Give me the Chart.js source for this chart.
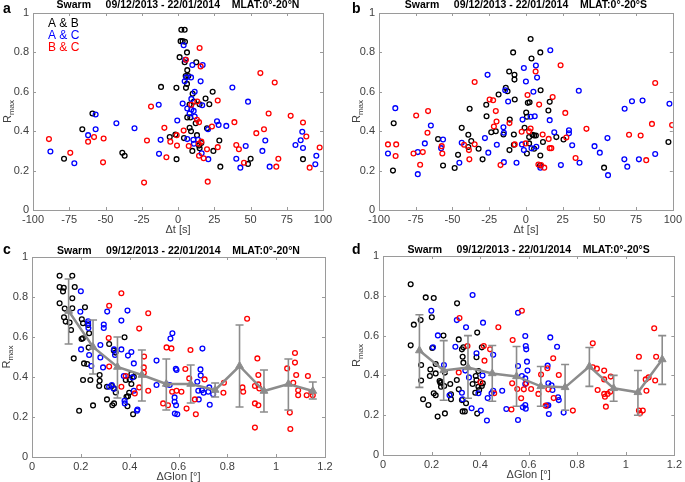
<!DOCTYPE html>
<html><head><meta charset="utf-8">
<script src="https://cdn.jsdelivr.net/npm/chart.js@4.4.1/dist/chart.umd.min.js"></script>
<style>
body{margin:0;background:#fff;width:685px;height:482px;position:relative;overflow:hidden;font-family:"Liberation Sans",Arial,sans-serif;}
canvas{position:absolute;}
.lab{position:absolute;font-weight:bold;font-size:14px;color:#000;line-height:14px;}
</style></head><body>
<canvas id="ca" width="340" height="240" style="left:0;top:0"></canvas>
<canvas id="cb" width="340" height="240" style="left:345px;top:0"></canvas>
<canvas id="cc" width="340" height="241" style="left:0;top:241px"></canvas>
<canvas id="cd" width="340" height="241" style="left:345px;top:241px"></canvas>
<div class="lab" style="left:3px;top:1px">a</div>
<div class="lab" style="left:352px;top:1px">b</div>
<div class="lab" style="left:3px;top:242px">c</div>
<div class="lab" style="left:352px;top:242px">d</div>
<script>
// ---------- data ----------
const dtTicks = [-100,-75,-50,-25,0,25,50,75,100];
const glonTicks = [0,0.2,0.4,0.6,0.8,1,1.2];
const rTicks = [0,0.2,0.4,0.6,0.8,1];
const seriesNames = ['A & B','A & C','B & C'];
const panelTitleN = 'Swarm     09/12/2013 - 22/01/2014    MLAT:0°-20°N';
const panelTitleS = 'Swarm     09/12/2013 - 22/01/2014    MLAT:0°-20°S';

// Panel a: Δt vs Rmax, north
const aAB = [[-66,0.41],[-59,0.49],[-78.6,0.26],[-38.4,0.29],[-36.8,0.275],[-11.7,0.625],[-1.1,0.62],[1.1,0.776],[2.3,0.915],[4.6,0.915],[1.8,0.857],[3.2,0.857],[4.8,0.854],[6.2,0.80],[4.6,0.75],[12.6,0.75],[6.4,0.71],[5.3,0.68],[7.1,0.68],[6.2,0.64],[5.5,0.62],[10.1,0.59],[11,0.55],[8,0.535],[14.9,0.537],[19,0.566],[21.6,0.537],[23.9,0.60],[6.4,0.47],[8.5,0.47],[12.2,0.44],[-5.7,0.37],[-1.8,0.383],[8,0.417],[9,0.40],[4.1,0.365],[20,0.415],[16.1,0.34],[14.5,0.327],[9.9,0.30],[14.9,0.314],[-1,0.258],[24.4,0.30],[28.5,0.353],[29.2,0.22],[48.3,0.234],[50.1,0.26],[86.2,0.258],[13.1,0.38]];
const aAC = [[-88,0.297],[-71.5,0.237],[-62,0.38],[-56.8,0.41],[-56.8,0.485],[-42.5,0.44],[-30,0.415],[-13.3,0.534],[-13.1,0.285],[-12,0.356],[-0.5,0.454],[3.2,0.54],[3.9,0.836],[5,0.763],[4.6,0.653],[5.7,0.673],[9,0.673],[6.4,0.515],[9.2,0.564],[9.2,0.51],[11.5,0.6],[9.9,0.736],[8,0.49],[10.8,0.503],[17,0.736],[15.6,0.653],[16.7,0.532],[11.5,0.475],[6.4,0.36],[10.6,0.356],[13.8,0.356],[11,0.336],[16.3,0.288],[20.7,0.41],[20.9,0.258],[26.9,0.45],[28,0.432],[33.3,0.427],[37.5,0.622],[40.2,0.26],[43,0.215],[46.7,0.325],[48.3,0.55],[58.2,0.3],[60.2,0.353],[63.2,0.22],[81,0.33],[84.6,0.354],[85.7,0.397],[86.2,0.315],[95.4,0.275],[94.7,0.232]];
const aBC = [[-89,0.36],[-74.3,0.29],[-62,0.347],[-57.9,0.37],[-51.3,0.363],[-51.7,0.242],[-21.4,0.353],[-18.6,0.525],[-23.4,0.139],[-9.4,0.417],[-8,0.268],[-5.3,0.347],[-0.9,0.38],[-0.7,0.327],[3.9,0.403],[5.5,0.763],[9.2,0.534],[13.3,0.551],[14.9,0.822],[15.6,0.729],[13.1,0.458],[14.5,0.446],[7.4,0.325],[14.3,0.336],[16.1,0.347],[14.5,0.275],[17.7,0.263],[20,0.308],[20.5,0.144],[23.4,0.424],[27.4,0.556],[27.4,0.319],[38.9,0.446],[40.2,0.33],[42,0.308],[45.5,0.24],[54,0.39],[56.8,0.695],[59.3,0.41],[62.5,0.49],[66.7,0.647],[67.8,0.22],[69.2,0.26],[77.7,0.478],[86.2,0.444],[88.5,0.373],[90.8,0.215],[97.7,0.317]];

// Panel b: Δt vs Rmax, south
const bAB = [[-90.5,0.2],[-90,0.44],[-59.8,0.36],[-56.4,0.226],[-48.5,0.213],[-46.2,0.28],[-43.7,0.417],[-39.2,0.382],[-39.2,0.32],[-38.3,0.514],[-37.2,0.35],[-32.2,0.311],[-29.5,0.257],[-27,0.534],[-26.8,0.476],[-23.6,0.395],[-20.5,0.4],[-18.6,0.586],[-15.3,0.383],[-13.7,0.62],[-12.5,0.603],[-11.4,0.703],[-11,0.459],[-11.2,0.304],[-8.7,0.8],[-7.8,0.686],[-7.8,0.662],[-7.6,0.561],[-8.2,0.383],[-8.2,0.331],[-0.9,0.417],[0.7,0.473],[0.2,0.495],[1.3,0.544],[3.2,0.868],[3.8,0.769],[2.5,0.547],[2.2,0.37],[4.5,0.382],[5.6,0.378],[6.8,0.378],[2.2,0.338],[0.7,0.287],[5.6,0.311],[9.8,0.8],[10,0.608],[9.8,0.277],[9.6,0.226],[11.6,0.345],[15.3,0.505],[16.2,0.549],[20.7,0.37],[25.6,0.358],[53.2,0.215],[97,0.345]];
const bAC = [[-93.9,0.287],[-88.9,0.517],[-73.6,0.294],[-73.6,0.182],[-68.8,0.338],[-64.7,0.429],[-57.7,0.314],[-56.4,0.358],[-45.3,0.24],[-43.7,0.341],[-27.9,0.365],[-26.1,0.686],[-25.6,0.291],[-19.8,0.331],[-15.3,0.42],[-15,0.392],[-15,0.243],[-14.1,0.608],[-12.1,0.551],[-6.4,0.24],[-1.4,0.721],[-2.3,0.459],[-2.7,0.333],[-1.4,0.304],[0,0.652],[3.2,0.473],[3.8,0.313],[5.1,0.6],[6,0.476],[6.8,0.733],[7.1,0.321],[7.6,0.672],[9.8,0.215],[16.2,0.456],[16.6,0.811],[19.3,0.395],[23.8,0.228],[29.3,0.405],[29.3,0.389],[31.5,0.329],[36,0.605],[36.5,0.24],[46.7,0.324],[50.3,0.291],[55.5,0.365],[55.9,0.177],[67,0.257],[67.2,0.514],[69,0.22],[72.2,0.552],[76.9,0.257],[79.4,0.556],[88,0.284],[97.7,0.539]];
const bBC = [[-93.9,0.333],[-88.3,0.333],[-88.7,0.274],[-76.5,0.287],[-74.7,0.48],[-72,0.23],[-70.2,0.294],[-67,0.392],[-66.6,0.502],[-57.3,0.324],[-56.9,0.287],[-42.1,0.331],[-38.8,0.304],[-38.5,0.257],[-34.9,0.334],[-34.9,0.65],[-24.7,0.561],[-22.3,0.557],[-21.8,0.424],[-20.5,0.502],[-20,0.449],[-17.3,0.228],[-11.2,0.441],[-7.6,0.333],[-2.9,0.397],[-0.2,0.338],[1.1,0.584],[3.2,0.414],[2.2,0.399],[6.6,0.703],[9,0.535],[8.5,0.231],[10.3,0.228],[11.4,0.383],[12.5,0.215],[15.5,0.361],[16.2,0.314],[17.3,0.314],[18.2,0.573],[23.6,0.735],[26.8,0.493],[27.5,0.368],[33.8,0.264],[41.2,0.412],[70.2,0.382],[78.1,0.378],[81.9,0.253],[85.8,0.437],[88,0.645],[99.5,0.431]];

// Panel c: ΔGlon vs Rmax, north
const cAB = [[0.113,0.906],[0.165,0.906],[0.113,0.85],[0.13,0.846],[0.127,0.828],[0.175,0.85],[0.165,0.794],[0.113,0.769],[0.165,0.744],[0.134,0.742],[0.131,0.699],[0.138,0.677],[0.154,0.672],[0.16,0.635],[0.171,0.493],[0.217,0.749],[0.209,0.669],[0.204,0.689],[0.203,0.59],[0.208,0.594],[0.23,0.66],[0.234,0.619],[0.213,0.468],[0.226,0.465],[0.232,0.547],[0.209,0.385],[0.239,0.385],[0.193,0.231],[0.25,0.258],[0.277,0.381],[0.277,0.41],[0.275,0.355],[0.307,0.351],[0.307,0.288],[0.316,0.565],[0.327,0.355],[0.329,0.259],[0.336,0.268],[0.336,0.343],[0.342,0.522],[0.335,0.532],[0.343,0.323],[0.379,0.599],[0.384,0.385],[0.387,0.301],[0.391,0.254],[0.398,0.321],[0.4,0.388],[0.407,0.365],[0.414,0.214],[0.417,0.401],[0.393,0.304],[0.407,0.415]];
const cAC = [[0.2,0.829],[0.198,0.726],[0.201,0.538],[0.23,0.679],[0.231,0.645],[0.23,0.669],[0.234,0.51],[0.243,0.455],[0.28,0.56],[0.28,0.498],[0.291,0.448],[0.294,0.662],[0.294,0.645],[0.308,0.727],[0.316,0.351],[0.327,0.36],[0.335,0.341],[0.336,0.538],[0.34,0.51],[0.366,0.538],[0.366,0.682],[0.376,0.405],[0.379,0.281],[0.38,0.268],[0.391,0.732],[0.393,0.507],[0.407,0.525],[0.417,0.468],[0.411,0.398],[0.417,0.331],[0.43,0.231],[0.432,0.237],[0.51,0.482],[0.51,0.36],[0.551,0.363],[0.564,0.36],[0.567,0.592],[0.575,0.619],[0.589,0.441],[0.592,0.435],[0.584,0.298],[0.584,0.276],[0.59,0.259],[0.585,0.217],[0.595,0.214],[0.677,0.376],[0.69,0.438],[0.691,0.408],[0.698,0.542],[0.696,0.334],[0.703,0.321],[0.683,0.288],[0.722,0.326],[0.726,0.348],[0.728,0.261],[0.742,0.314],[0.681,0.331]];
const cBC = [[0.314,0.595],[0.316,0.756],[0.316,0.452],[0.366,0.819],[0.366,0.351],[0.384,0.405],[0.439,0.642],[0.459,0.502],[0.458,0.448],[0.458,0.421],[0.439,0.348],[0.476,0.331],[0.476,0.719],[0.421,0.318],[0.537,0.268],[0.551,0.548],[0.571,0.543],[0.557,0.259],[0.574,0.326],[0.592,0.331],[0.612,0.326],[0.628,0.44],[0.633,0.242],[0.649,0.535],[0.644,0.393],[0.667,0.288],[0.671,0.214],[0.707,0.388],[0.784,0.321],[0.786,0.371],[0.862,0.348],[0.865,0.326],[0.881,0.691],[0.913,0.355],[0.913,0.268],[0.913,0.147],[0.923,0.493],[0.927,0.41],[0.927,0.363],[0.927,0.259],[0.931,0.343],[1.056,0.222],[1.058,0.14],[1.045,0.443],[1.07,0.371],[1.077,0.52],[1.077,0.472],[1.082,0.41],[1.09,0.334],[1.09,0.309],[1.13,0.405],[1.125,0.309],[1.145,0.326],[1.15,0.309]];

// Panel d: ΔGlon vs Rmax, south
const dAB = [[0.114,0.858],[0.114,0.551],[0.127,0.655],[0.155,0.678],[0.157,0.452],[0.157,0.374],[0.165,0.28],[0.176,0.792],[0.209,0.789],[0.201,0.692],[0.203,0.538],[0.195,0.43],[0.193,0.397],[0.187,0.251],[0.217,0.457],[0.217,0.41],[0.209,0.31],[0.217,0.3],[0.225,0.193],[0.236,0.363],[0.239,0.343],[0.233,0.372],[0.24,0.367],[0.255,0.414],[0.252,0.347],[0.255,0.209],[0.249,0.6],[0.277,0.357],[0.28,0.305],[0.28,0.28],[0.304,0.377],[0.305,0.762],[0.312,0.581],[0.312,0.33],[0.325,0.531],[0.328,0.494],[0.331,0.464],[0.325,0.276],[0.328,0.219],[0.337,0.219],[0.331,0.541],[0.342,0.26],[0.369,0.357],[0.382,0.397],[0.385,0.491],[0.385,0.377],[0.388,0.208],[0.388,0.615],[0.393,0.422],[0.393,0.343],[0.396,0.327],[0.407,0.541],[0.407,0.347],[0.411,0.36],[0.38,0.313]];
const dAC = [[0.199,0.725],[0.206,0.541],[0.226,0.601],[0.251,0.452],[0.274,0.3],[0.298,0.544],[0.304,0.678],[0.325,0.313],[0.328,0.28],[0.342,0.642],[0.339,0.424],[0.354,0.39],[0.369,0.804],[0.365,0.235],[0.385,0.511],[0.393,0.31],[0.403,0.223],[0.412,0.665],[0.41,0.399],[0.431,0.286],[0.428,0.173],[0.447,0.31],[0.454,0.323],[0.454,0.504],[0.491,0.323],[0.508,0.231],[0.556,0.715],[0.556,0.447],[0.556,0.176],[0.572,0.397],[0.576,0.24],[0.586,0.385],[0.586,0.357],[0.586,0.251],[0.588,0.233],[0.586,0.598],[0.588,0.548],[0.59,0.531],[0.593,0.469],[0.595,0.424],[0.678,0.449],[0.681,0.36],[0.683,0.206],[0.689,0.591],[0.694,0.35],[0.698,0.327],[0.717,0.544],[0.721,0.29],[0.724,0.276],[0.744,0.213],[0.681,0.25],[0.675,0.248]];
const dBC = [[0.315,0.688],[0.312,0.415],[0.348,0.548],[0.401,0.367],[0.415,0.548],[0.418,0.474],[0.441,0.531],[0.458,0.31],[0.475,0.642],[0.529,0.229],[0.532,0.36],[0.534,0.578],[0.553,0.332],[0.569,0.285],[0.572,0.725],[0.58,0.33],[0.59,0.36],[0.61,0.332],[0.64,0.307],[0.651,0.404],[0.67,0.248],[0.677,0.436],[0.681,0.33],[0.701,0.486],[0.703,0.286],[0.724,0.402],[0.782,0.223],[0.864,0.561],[0.864,0.441],[0.881,0.434],[0.884,0.327],[0.911,0.424],[0.911,0.38],[0.911,0.307],[0.914,0.293],[0.918,0.243],[0.925,0.307],[0.938,0.394],[0.936,0.318],[1.054,0.494],[1.054,0.223],[1.058,0.209],[1.07,0.223],[1.082,0.38],[1.085,0.323],[1.094,0.39],[1.117,0.637],[1.125,0.494],[1.121,0.374]];

// Bin means with error bars (ΔGlon bins)
const binCenters = [0.15,0.25,0.35,0.45,0.55,0.65,0.75,0.85,0.95,1.05,1.15];
const cMean = [0.73,0.55,0.45,0.41,0.365,0.365,0.335,0.455,0.33,0.365,0.33];
const cLow  = [0.565,0.415,0.295,0.28,0.235,0.27,0.30,0.25,0.225,0.235,0.29];
const cHigh = [0.89,0.685,0.60,0.535,0.49,0.46,0.37,0.66,0.435,0.49,0.375];
const dMean = [0.525,0.425,0.44,0.41,0.395,0.345,0.34,0.445,0.335,0.315,0.48];
const dLow  = [0.34,0.275,0.285,0.27,0.245,0.245,0.225,0.345,0.27,0.20,0.355];
const dHigh = [0.705,0.575,0.60,0.55,0.545,0.445,0.455,0.54,0.40,0.425,0.60];

// ---------- styles ----------
const FONT = '"Liberation Sans", Arial, Helvetica, sans-serif';
const seriesColors = ['#000000','#0000ff','#ff0000'];
const GRAY = '#8c8c8c';
const FRAME = '#9a9a9a';
const TXT = '#404040';

const panels = [
  {id:'ca', w:340, h:240, area:{l:33,r:323,t:13,b:210}, titleY:5, yTitleX:8, title:panelTitleN, xTitle:'Δt [s]', xMin:-100, xMax:100, xTicks:dtTicks, series:[aAB,aAC,aBC], legend:true},
  {id:'cb', w:340, h:240, area:{l:34,r:329,t:13,b:210}, titleY:5, yTitleX:12, title:panelTitleS, xTitle:'Δt [s]', xMin:-100, xMax:100, xTicks:dtTicks, series:[bAB,bAC,bBC]},
  {id:'cc', w:340, h:241, area:{l:32,r:325,t:16,b:216}, titleY:10, yTitleX:7, title:panelTitleN, xTitle:'ΔGlon [°]', xMin:0, xMax:1.2, xTicks:glonTicks, series:[cAB,cAC,cBC], mean:cMean, low:cLow, high:cHigh},
  {id:'cd', w:340, h:241, area:{l:38,r:333,t:15,b:214}, titleY:9, yTitleX:12, title:panelTitleS, xTitle:'ΔGlon [°]', xMin:0, xMax:1.2, xTicks:glonTicks, series:[dAB,dAC,dBC], mean:dMean, low:dLow, high:dHigh}
];

const fmt = v => String(Number(v.toFixed(3)));

function makeChart(p){
  const datasets = [];
  if (p.mean) {
    datasets.push({type:'line', isMean:true, data: binCenters.map((x,i)=>({x:x, y:p.mean[i]})),
      borderColor:GRAY, backgroundColor:GRAY, borderWidth:2.5, pointStyle:'triangle',
      pointRadius:4.5, pointBorderWidth:1, pointBackgroundColor:GRAY, showLine:true, order:0, tension:0});
  }
  p.series.forEach((s,k)=>{
    datasets.push({type:'scatter', label:seriesNames[k], data:s.map(([x,y])=>({x:x,y:y})),
      borderColor:seriesColors[k], backgroundColor:'rgba(0,0,0,0)', pointRadius:2.4,
      pointBorderWidth:1.3, pointStyle:'circle', order:4-k});
  });

  const plugin = {
    id:'matlabStyle',
    beforeDatasetDraw(chart, args){
      if (!p.mean || !chart.data.datasets[args.index].isMean) return;
      const ctx = chart.ctx, xs = chart.scales.x, ys = chart.scales.y;
      ctx.save(); ctx.strokeStyle = GRAY; ctx.lineWidth = 1.6;
      binCenters.forEach((x,i)=>{
        const px = xs.getPixelForValue(x), y1 = ys.getPixelForValue(p.low[i]), y2 = ys.getPixelForValue(p.high[i]);
        ctx.beginPath(); ctx.moveTo(px,y1); ctx.lineTo(px,y2);
        ctx.moveTo(px-4,y1); ctx.lineTo(px+4,y1); ctx.moveTo(px-4,y2); ctx.lineTo(px+4,y2); ctx.stroke();
      });
      ctx.restore();
    },
    afterDraw(chart){
      const ctx = chart.ctx, a = chart.chartArea, xs = chart.scales.x, ys = chart.scales.y;
      ctx.save();
      // frame
      ctx.strokeStyle = FRAME; ctx.lineWidth = 1;
      ctx.strokeRect(Math.round(a.left)+0.5, Math.round(a.top)+0.5, Math.round(a.right-a.left), Math.round(a.bottom-a.top));
      // inward ticks
      ctx.beginPath();
      p.xTicks.forEach(v=>{ const px = Math.round(xs.getPixelForValue(v))+0.5;
        ctx.moveTo(px,a.bottom); ctx.lineTo(px,a.bottom-3); ctx.moveTo(px,a.top); ctx.lineTo(px,a.top+3); });
      rTicks.forEach(v=>{ const py = Math.round(ys.getPixelForValue(v))+0.5;
        ctx.moveTo(a.left,py); ctx.lineTo(a.left+3,py); ctx.moveTo(a.right,py); ctx.lineTo(a.right-3,py); });
      ctx.stroke();
      // title
      ctx.fillStyle = '#000'; ctx.font = 'bold 10.5px ' + FONT; ctx.textAlign = 'center'; ctx.textBaseline = 'middle';
      ctx.fillText(p.title, (a.left+a.right)/2, p.titleY);
      // x title
      ctx.fillStyle = TXT; ctx.font = '11px ' + FONT;
      ctx.fillText(p.xTitle, (a.left+a.right)/2, a.bottom+20);
      // y title R_max
      ctx.translate(p.yTitleX, (a.top+a.bottom)/2); ctx.rotate(-Math.PI/2);
      ctx.font = '11px ' + FONT; const wR = ctx.measureText('R').width;
      ctx.font = '8px ' + FONT; const wM = ctx.measureText('max').width;
      const st = -(wR+wM)/2; ctx.textAlign = 'left';
      ctx.font = '11px ' + FONT; ctx.fillText('R', st, 0);
      ctx.font = '8px ' + FONT; ctx.fillText('max', st+wR, 3.5);
      ctx.restore();
      // legend
      if (p.legend) {
        ctx.save(); ctx.font = '12px ' + FONT; ctx.textAlign = 'left'; ctx.textBaseline = 'middle';
        seriesNames.forEach((n,k)=>{ ctx.fillStyle = seriesColors[k]; ctx.fillText(n, a.left+15, a.top+11+12*k); });
        ctx.restore();
      }
    }
  };

  const tickFont = {family:FONT, size:11};
  new Chart(document.getElementById(p.id), {
    type:'scatter',
    data:{datasets:datasets},
    options:{
      responsive:false, animation:false, devicePixelRatio:1, events:[],
      layout:{padding:{top:p.area.t, right:p.w-p.area.r, left:0, bottom:0}},
      plugins:{legend:{display:false}, tooltip:{enabled:false}, title:{display:false}},
      scales:{
        x:{type:'linear', min:p.xMin, max:p.xMax,
          afterBuildTicks:s=>{ s.ticks = p.xTicks.map(v=>({value:v})); },
          afterFit:s=>{ s.height = p.h - p.area.b; },
          ticks:{callback:v=>fmt(v), font:tickFont, color:TXT, padding:3, maxRotation:0, autoSkip:false},
          grid:{display:false, drawTicks:false}, border:{display:false}},
        y:{type:'linear', min:0, max:1,
          afterBuildTicks:s=>{ s.ticks = rTicks.map(v=>({value:v})); },
          afterFit:s=>{ s.width = p.area.l; },
          ticks:{callback:v=>fmt(v), font:tickFont, color:TXT, padding:4, autoSkip:false},
          grid:{display:false, drawTicks:false}, border:{display:false}}
      }
    },
    plugins:[plugin]
  });
}
panels.forEach(makeChart);
</script>
</body></html>
